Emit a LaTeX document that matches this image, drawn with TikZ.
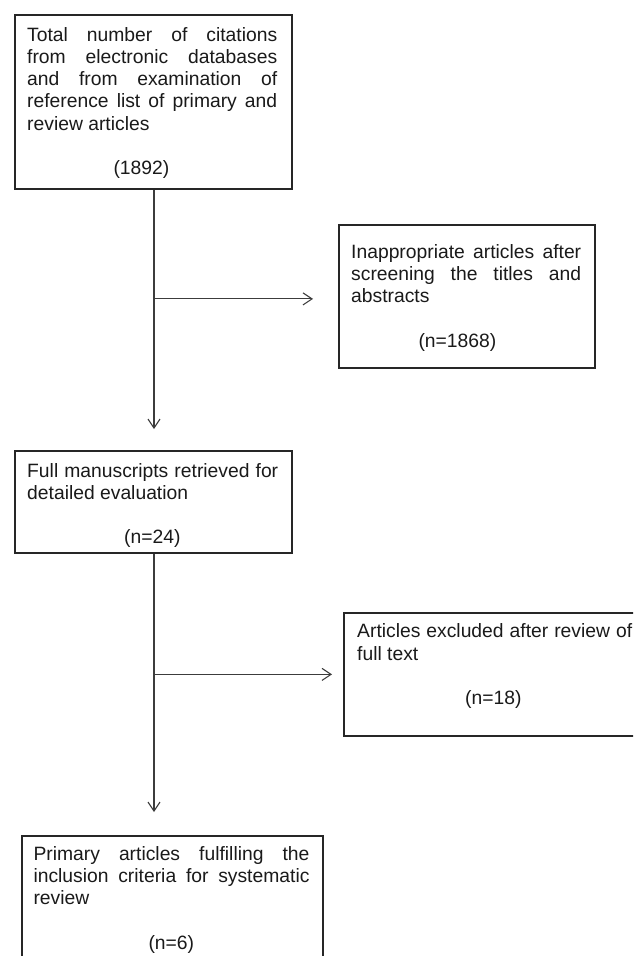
\documentclass[tikz,border=0pt]{standalone}
\usepackage{fontspec}
\setmainfont{Liberation Sans}
\usetikzlibrary{arrows.meta,calc}
\definecolor{ink}{HTML}{1A1A1A}
\definecolor{edge}{HTML}{262626}
\definecolor{wire}{HTML}{3C3C3C}
\newcommand{\jline}[1]{\makebox[\linewidth][s]{#1}}
\begin{document}
\begin{tikzpicture}[x=1pt,y=-1pt,
  box/.style={draw=edge,line width=1.8pt,rectangle,inner sep=0pt,anchor=north west},
  txt/.style={anchor=base west,inner sep=0pt,text=ink,font=\fontsize{19.3}{22.3}\selectfont},
  conn/.style={draw=wire,line width=1.1pt,-{Straight Barb[length=9pt,width=12pt,line width=1.1pt]}}
]
\useasboundingbox (0,0) rectangle (633,956);
\fill[white] (0,0) rectangle (633,956);
\clip (0,0) rectangle (633,956);

% boxes
\node[box,minimum width=277pt,minimum height=174pt] (b1) at (14,14) {};
\node[box,minimum width=256pt,minimum height=143pt] (b2) at (338,224) {};
\node[box,minimum width=277pt,minimum height=102pt] (b3) at (14,450) {};
\node[box,minimum width=302pt,minimum height=123pt] (b4) at (343,612) {};
\node[box,minimum width=301pt,minimum height=150pt] (b5) at (21,835) {};

% texts
\node[txt] (t1) at (27,41) {\parbox[t]{250pt}{\jline{Total number of citations}\\\jline{from electronic databases}\\\jline{and from examination of}\\\jline{reference list of primary and}\\review articles}};
\node[txt] (c1) at (113.3,174.8) {(1892)};

\node[txt] (t2) at (351,258) {\parbox[t]{230pt}{\jline{Inappropriate articles after}\\\jline{screening the titles and}\\abstracts}};
\node[txt] (c2) at (418.3,347.2) {(n=1868)};

\node[txt] (t3) at (27,477) {\parbox[t]{251pt}{\jline{Full manuscripts retrieved for}\\detailed evaluation}};
\node[txt] (c3) at (124,543) {(n=24)};

\node[txt] (t4) at (357,637.7) {\parbox[t]{275pt}{\jline{Articles excluded after review of}\\full text}};
\node[txt] (c4) at (465,704.6) {(n=18)};

\node[txt] (t5) at (33.3,860) {\parbox[t]{276pt}{\jline{Primary articles fulfilling the}\\\jline{inclusion criteria for systematic}\\review}};
\node[txt] (c5) at (148.3,949.2) {(n=6)};

% connectors
\coordinate (spine) at (154,0);
\coordinate (a1) at ($(b2.west)+(0,2.5)$);
\draw[conn,shorten >=21pt] (b1.south -| spine) -- (b3.north -| spine);
\draw[conn,shorten >=25pt] (a1 -| spine) -- (a1);
\draw[conn,shorten >=23pt] (b3.south -| spine) -- (b5.north -| spine);
\draw[conn,shorten >=11pt] (b4.west -| spine) -- (b4.west);
\end{tikzpicture}
\end{document}
